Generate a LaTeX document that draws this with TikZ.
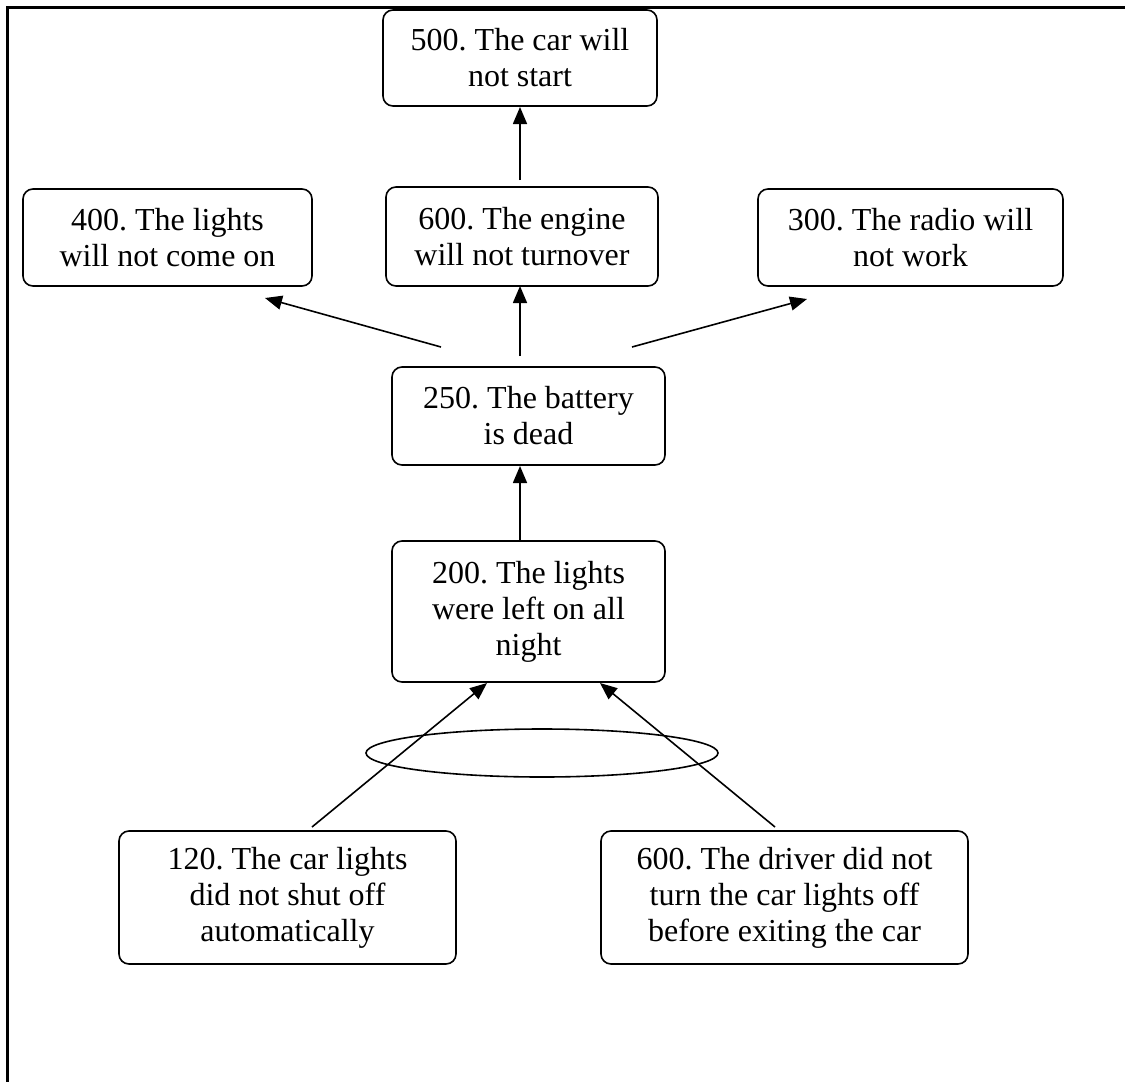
\documentclass[tikz,border=0pt]{standalone}
\usepackage{fontspec}
\setmainfont{Liberation Serif}
\usetikzlibrary{arrows.meta,shapes.geometric}
\frenchspacing

\tikzset{
  cause/.style={draw, line width=1.6pt, rounded corners=10pt, align=center,
    inner sep=0pt, font=\fontsize{32}{36}\selectfont},
  link/.style={line width=1.6pt, -{Triangle[length=17pt,width=14pt]}},
  frameline/.style={line width=3pt}
}

\begin{document}
\begin{tikzpicture}[x=1pt,y=-1pt]
  \useasboundingbox (0,0) rectangle (1125,1082);

  % page frame (left and top rules)
  \draw[frameline] (7.5,1082) -- (7.5,7.5) -- (1125,7.5);

  % cause-and-effect boxes
  \node[cause, minimum width=274pt, minimum height=96pt]  (b500)  at (520,58)      {500. The car will\\not start};
  \node[cause, minimum width=289pt, minimum height=97pt]  (b400)  at (167.5,237.5) {400. The lights\\will not come on};
  \node[cause, minimum width=272pt, minimum height=99pt]  (b600e) at (522,236.5)   {600. The engine\\will not turnover};
  \node[cause, minimum width=305pt, minimum height=97pt]  (b300)  at (910.5,237.5) {300. The radio will\\not work};
  \node[cause, minimum width=273pt, minimum height=98pt]  (b250)  at (528.5,416)   {250. The battery\\is dead};
  \node[cause, minimum width=273pt, minimum height=141pt] (b200)  at (528.5,611.5) {200. The lights\\were left on all\\night};
  \node[cause, minimum width=337pt, minimum height=133pt] (b120)  at (287.5,897.5) {120. The car lights\\did not shut off\\automatically};
  \node[cause, minimum width=367pt, minimum height=133pt] (b600d) at (784.5,897.5) {600. The driver did not\\turn the car lights off\\before exiting the car};

  % "and" ellipse joining the two root causes
  \node[draw, ellipse, line width=1.6pt, minimum width=352pt, minimum height=48pt, inner sep=0pt] (andgate) at (542,753) {};

  % connector end points
  \coordinate (e500s)  at (520,180);
  \coordinate (e500t)  at (520,107);
  \coordinate (e600s)  at (520,356);
  \coordinate (e600t)  at (520,286);
  \coordinate (e400s)  at (441,347);
  \coordinate (e400t)  at (265,298);
  \coordinate (e300s)  at (632,347);
  \coordinate (e300t)  at (807,299);
  \coordinate (e250s)  at (520,541);
  \coordinate (e250t)  at (520,466);
  \coordinate (e120s)  at (312,827);
  \coordinate (e120t)  at (487,683);
  \coordinate (e600ds) at (775,827);
  \coordinate (e600dt) at (600,683);

  % arrows
  \draw[link] (e500s)  -- (e500t);
  \draw[link] (e600s)  -- (e600t);
  \draw[link] (e400s)  -- (e400t);
  \draw[link] (e300s)  -- (e300t);
  \draw[link] (e250s)  -- (e250t);
  \draw[link] (e120s)  -- (e120t);
  \draw[link] (e600ds) -- (e600dt);
\end{tikzpicture}
\end{document}
